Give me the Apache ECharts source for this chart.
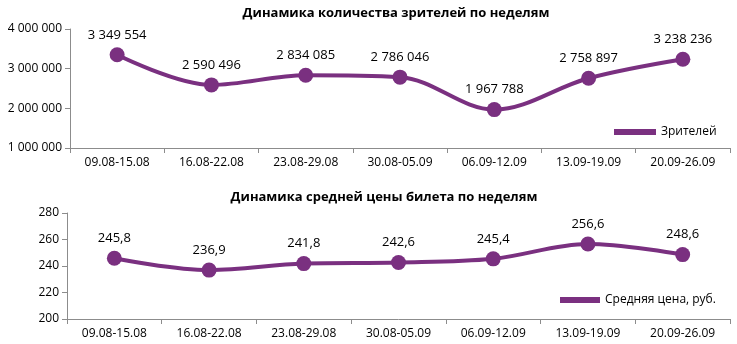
<!DOCTYPE html>
<html>
<head>
<meta charset="utf-8">
<script src="https://cdn.jsdelivr.net/npm/echarts@6/dist/echarts.min.js"></script>
<style>
  html, body { margin: 0; padding: 0; background: #fff; }
  #chart { width: 737px; height: 344px; }
</style>
</head>
<body>
<div id="chart"></div>
<script>
// Weekly periods
const weeks = ['09.08-15.08', '16.08-22.08', '23.08-29.08', '30.08-05.09', '06.09-12.09', '13.09-19.09', '20.09-26.09'];
// Viewers per week
const viewers = [3349554, 2590496, 2834085, 2786046, 1967788, 2758897, 3238236];
// Average ticket price per week, rub.
const avgPrice = [245.8, 236.9, 241.8, 242.6, 245.4, 256.6, 248.6];

const titleTop = 'Динамика количества зрителей по неделям';
const titleBottom = 'Динамика средней цены билета по неделям';
const nameViewers = 'Зрителей';
const namePrice = 'Средняя цена, руб.';

const purple = '#7a3080';
const axisGrey = '#8c8c8c';
const font = '"Open Sans", "Noto Sans", sans-serif';

function spaced(v) {
  return String(Math.round(v)).replace(/\B(?=(\d{3})+(?!\d))/g, ' ');
}
function comma(v) {
  return v.toFixed(1).replace('.', ',');
}

const chart = echarts.init(document.getElementById('chart'), null, { renderer: 'canvas' });

const xAxisBase = {
  type: 'category',
  data: weeks,
  boundaryGap: true,
  axisLine: { lineStyle: { color: axisGrey, width: 1 } },
  axisTick: { show: true, alignWithLabel: false, length: 5, lineStyle: { color: axisGrey } },
  axisLabel: { color: '#000', fontFamily: font, fontSize: 12, margin: 9 }
};
const yAxisBase = {
  type: 'value',
  splitLine: { show: false },
  axisLine: { show: true, lineStyle: { color: axisGrey, width: 1 } },
  axisTick: { show: true, length: 5, lineStyle: { color: axisGrey } },
  axisLabel: { color: '#000', fontFamily: font, fontSize: 12, margin: 8 }
};

const seriesBase = {
  type: 'line',
  smooth: 0.35,
  symbol: 'circle',
  symbolSize: 15,
  lineStyle: { color: purple, width: 4 },
  itemStyle: { color: purple },
  label: { show: true, position: 'top', distance: 6, color: '#000', fontFamily: font, fontSize: 13 }
};

chart.setOption({
  animation: false,
  title: [
    { text: titleTop, left: 391, top: 2, textAlign: 'center',
      textStyle: { fontFamily: font, fontSize: 13, fontWeight: 'bold', color: '#000' } },
    { text: titleBottom, left: 379, top: 186, textAlign: 'center',
      textStyle: { fontFamily: font, fontSize: 13, fontWeight: 'bold', color: '#000' } }
  ],
  legend: [
    { data: [nameViewers], icon: 'rect', itemWidth: 42, itemHeight: 6, itemGap: 6, padding: 0,
      left: 614, top: 126, textStyle: { fontFamily: font, fontSize: 12, color: '#000' } },
    { data: [namePrice], icon: 'rect', itemWidth: 40, itemHeight: 6, itemGap: 6, padding: 0,
      left: 560, top: 294, textStyle: { fontFamily: font, fontSize: 12, color: '#000' } }
  ],
  grid: [
    { left: 70, right: 7, top: 29, height: 119 },
    { left: 67, right: 7, top: 213, height: 106 }
  ],
  xAxis: [
    Object.assign({ gridIndex: 0 }, xAxisBase),
    Object.assign({ gridIndex: 1 }, xAxisBase)
  ],
  yAxis: [
    Object.assign({}, yAxisBase, { gridIndex: 0, min: 1000000, max: 4000000, interval: 1000000,
      axisLabel: Object.assign({}, yAxisBase.axisLabel, { formatter: spaced }) }),
    Object.assign({}, yAxisBase, { gridIndex: 1, min: 200, max: 280, interval: 20 })
  ],
  series: [
    Object.assign({}, seriesBase, { name: nameViewers, xAxisIndex: 0, yAxisIndex: 0, data: viewers,
      label: Object.assign({}, seriesBase.label, { formatter: p => spaced(p.value) }) }),
    Object.assign({}, seriesBase, { name: namePrice, xAxisIndex: 1, yAxisIndex: 1, data: avgPrice,
      label: Object.assign({}, seriesBase.label, { formatter: p => comma(p.value) }) })
  ]
});
</script>
</body>
</html>
